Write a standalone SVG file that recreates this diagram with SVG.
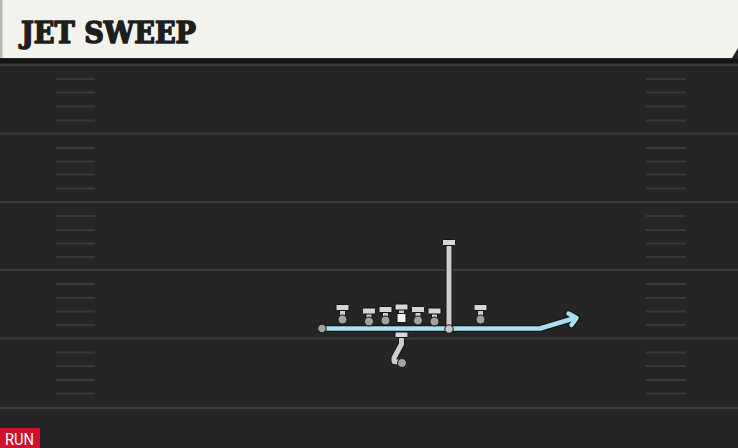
<svg xmlns="http://www.w3.org/2000/svg" width="738" height="448" viewBox="0 0 738 448">
<defs>
<style>
.yard{stroke:#3b3b3b;stroke-width:2}
.hash{stroke:#383838;stroke-width:2}
.out{fill:none;stroke:#151515;stroke-linecap:round;stroke-linejoin:round}
.body{fill:none;stroke:#cdcdcd;stroke-linecap:round;stroke-linejoin:round}
.bar{fill:#d6d6d6;stroke:#151515;stroke-width:1}
.dot{fill:#a2a2a2;stroke:#151515;stroke-width:1}
</style>
</defs>
<rect width="738" height="448" fill="#252525"/>
<rect y="59" width="738" height="4" fill="#141414"/>
<g id="field">
<line class="yard" x1="0" y1="65" x2="738" y2="65"/>
<line class="yard" x1="0" y1="133.5" x2="738" y2="133.5"/>
<line class="yard" x1="0" y1="202" x2="738" y2="202"/>
<line class="yard" x1="0" y1="270" x2="738" y2="270"/>
<line class="yard" x1="0" y1="338.5" x2="738" y2="338.5"/>
<line class="yard" x1="0" y1="408" x2="738" y2="408"/>
<g class="hash">
<path d="M56,79H95M56,92.5H95M56,106.5H95M56,120.5H95M56,148H95M56,161.5H95M56,174.5H95M56,188.5H95M56,216H95M56,230H95M56,243.5H95M56,257H95M56,284H95M56,298H95M56,311.5H95M56,325H95M56,352.5H95M56,366H95M56,380H95M56,393.5H95"/>
<path d="M646,79H686M646,92.5H686M646,106.5H686M646,120.5H686M646,148H686M646,161.5H686M646,174.5H686M646,188.5H686M646,216H686M646,230H686M646,243.5H686M646,257H686M646,284H686M646,298H686M646,311.5H686M646,325H686M646,352.5H686M646,366H686M646,380H686M646,393.5H686"/>
</g>
</g>
<g id="header">
<path d="M0,0H738V48L732,58H0Z" fill="#f4f2ec"/>
<rect x="0" y="0" width="2.5" height="58" fill="#b8b8b2"/>
<text x="21" y="43" font-family="'DejaVu Serif','Liberation Serif',serif" font-weight="bold" font-size="29" fill="#1e1e1e" stroke="#1e1e1e" stroke-width="1.6" stroke-linejoin="round" textLength="175" lengthAdjust="spacingAndGlyphs">JET SWEEP</text>
</g>
<g id="connectors">
<polyline class="out" points="322,328.5 540,328.5 575,318" stroke-width="7"/>
<path class="out" d="M568.5,313.5 L576.5,318 L571.5,325" stroke-width="7"/>
<polyline points="322,328.5 540,328.5 575,318" fill="none" stroke="#a8e0f0" stroke-width="4.5" stroke-linejoin="round" stroke-linecap="round"/>
<path d="M568.5,313.5 L576.5,318 L571.5,325" fill="none" stroke="#a8e0f0" stroke-width="4.5" stroke-linejoin="round" stroke-linecap="round"/>
</g>
<g id="motion-player">
<circle class="dot" cx="322" cy="328.5" r="4.2"/>
</g>
<g id="wr-vertical">
<line class="out" x1="449" y1="244" x2="449" y2="328" stroke-width="7"/>
<line class="body" x1="449" y1="244" x2="449" y2="328" stroke-width="5"/>
<rect class="bar" x="442.5" y="239.5" width="13" height="6" rx="1"/>
<circle cx="449" cy="329" r="4.2" fill="#c4c4c4" stroke="#151515" stroke-width="1"/>
</g>
<g id="p1">
<line class="out" x1="342.5" y1="309" x2="342.5" y2="319" stroke-width="7"/>
<line class="body" x1="342.5" y1="309" x2="342.5" y2="319" stroke-width="5"/>
<rect class="bar" x="336" y="304.5" width="13" height="6" rx="1"/>
<circle class="dot" cx="342.5" cy="319.5" r="4.5"/>
</g>
<g id="p2">
<line class="out" x1="369" y1="313" x2="369" y2="321" stroke-width="7"/>
<line class="body" x1="369" y1="313" x2="369" y2="321" stroke-width="5"/>
<rect class="bar" x="362.5" y="308" width="13" height="6" rx="1"/>
<circle class="dot" cx="369" cy="321.5" r="4.5"/>
</g>
<g id="p3">
<line class="out" x1="385.5" y1="311" x2="385.5" y2="320" stroke-width="7"/>
<line class="body" x1="385.5" y1="311" x2="385.5" y2="320" stroke-width="5"/>
<rect class="bar" x="379" y="306.5" width="13" height="6" rx="1"/>
<circle class="dot" cx="385.5" cy="320.5" r="4.5"/>
</g>
<g id="center">
<line class="out" x1="401.5" y1="309" x2="401.5" y2="318" stroke-width="7"/>
<line class="body" x1="401.5" y1="309" x2="401.5" y2="318" stroke-width="5"/>
<rect class="bar" x="395" y="304" width="13" height="6" rx="1"/>
<rect x="397" y="313.5" width="9" height="9" fill="#f2f2f2" stroke="#151515" stroke-width="1"/>
</g>
<g id="p5">
<line class="out" x1="418" y1="311" x2="418" y2="320" stroke-width="7"/>
<line class="body" x1="418" y1="311" x2="418" y2="320" stroke-width="5"/>
<rect class="bar" x="411.5" y="306.5" width="13" height="6" rx="1"/>
<circle class="dot" cx="418" cy="320.5" r="4.5"/>
</g>
<g id="p6">
<line class="out" x1="434.5" y1="313" x2="434.5" y2="321" stroke-width="7"/>
<line class="body" x1="434.5" y1="313" x2="434.5" y2="321" stroke-width="5"/>
<rect class="bar" x="428" y="308" width="13" height="6" rx="1"/>
<circle class="dot" cx="434.5" cy="321.5" r="4.5"/>
</g>
<g id="p7">
<line class="out" x1="480.5" y1="309" x2="480.5" y2="319" stroke-width="7"/>
<line class="body" x1="480.5" y1="309" x2="480.5" y2="319" stroke-width="5"/>
<rect class="bar" x="474" y="304.5" width="13" height="6" rx="1"/>
<circle class="dot" cx="480.5" cy="319.5" r="4.5"/>
</g>
<g id="qb">
<polyline class="out" points="401.5,336 401.5,344 394,358 394,361.5 401.5,362.5" stroke-width="7"/>
<polyline class="body" points="401.5,336 401.5,344 394,358 394,361.5 401.5,362.5" stroke-width="5"/>
<rect class="bar" x="395" y="332" width="13" height="5.5" rx="1"/>
<circle class="dot" cx="402" cy="363" r="4.5"/>
</g>
<g id="tag">
<rect x="0" y="428" width="40" height="20" fill="#d0102c"/>
<text x="5" y="445" font-family="Roboto,'Liberation Sans',sans-serif" font-size="17" fill="#ffffff" textLength="29" lengthAdjust="spacingAndGlyphs">RUN</text>
</g>
</svg>
